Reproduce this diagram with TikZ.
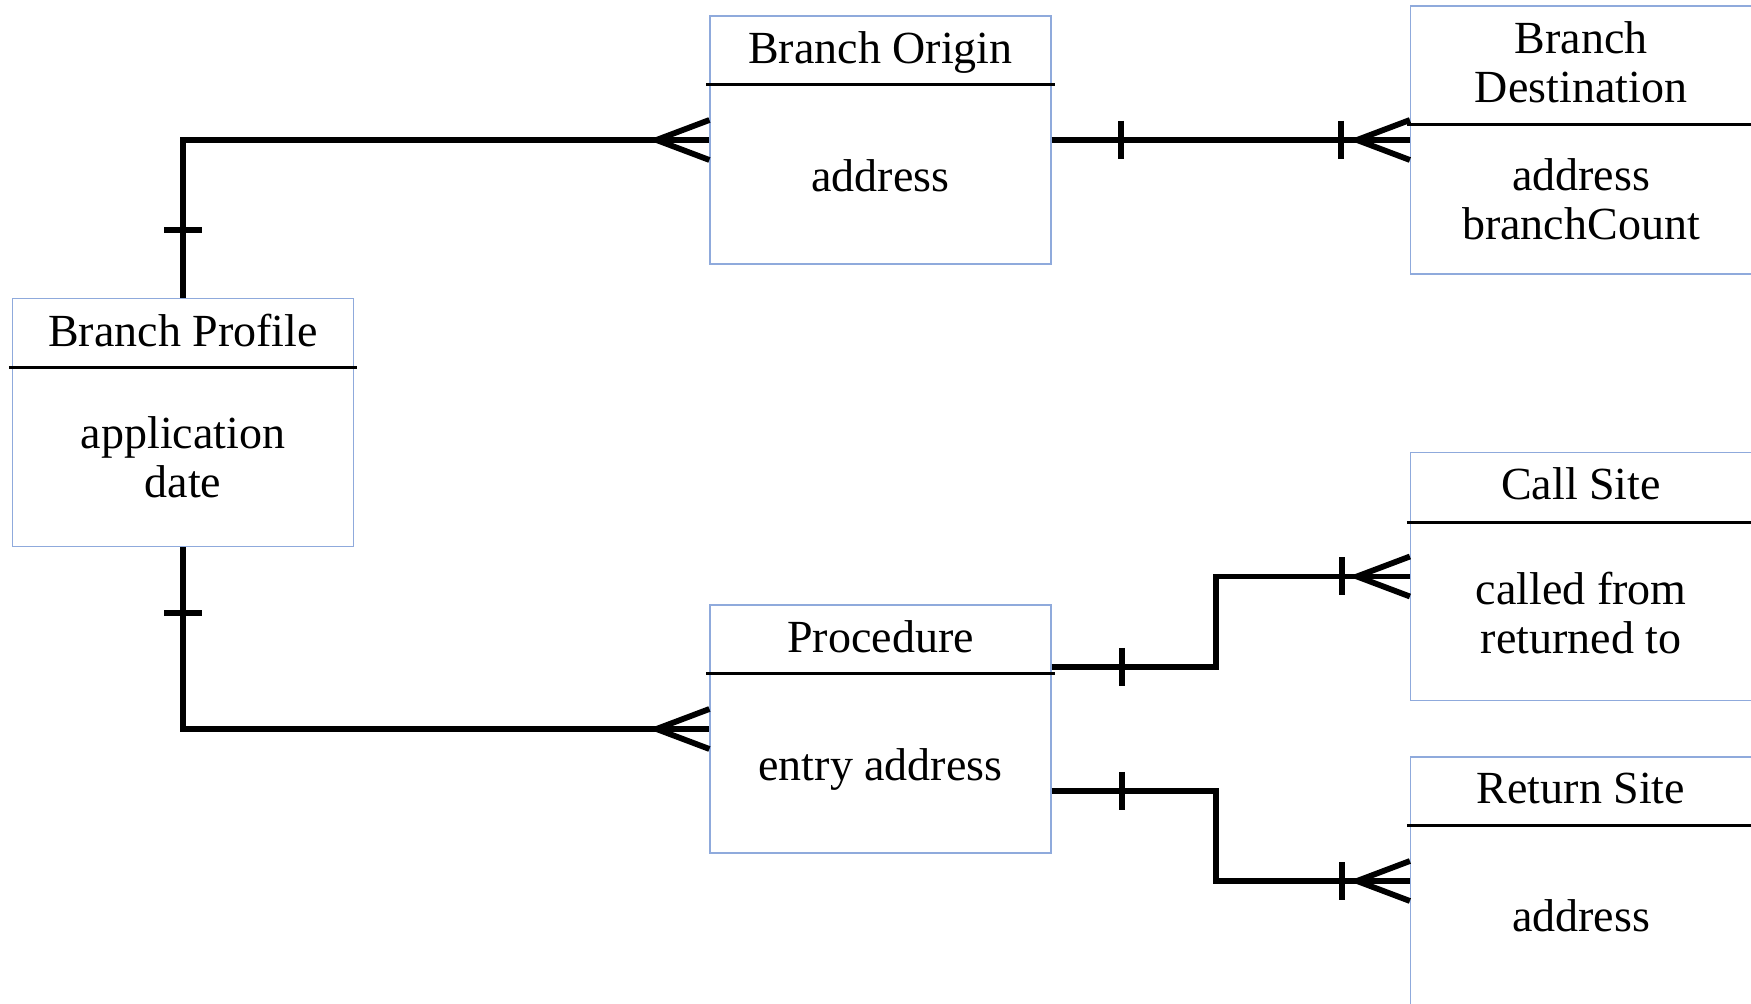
\documentclass[tikz,border=0pt]{standalone}
\usepackage{fontspec}
\setmainfont{Liberation Serif}
\usetikzlibrary{calc}
\definecolor{boxblue}{RGB}{143,170,220}
\tikzset{
  ent/.style={draw=boxblue, line width=0.6pt, minimum width=170.5pt, minimum height=124pt, inner sep=0pt},
  txt/.style={font=\fontsize{23pt}{24.5pt}\selectfont, align=center, inner sep=0pt},
  divline/.style={draw=black, line width=1.4pt},
  conn/.style={draw=black, line width=2.9pt},
  crowfoot/.pic={\draw[black, line width=2.9pt] (0,-20) -- (-53,0) -- (0,20);},
  onebar/.pic={\draw[black, line width=2.9pt] (0,-19) -- (0,19);}
}
\begin{document}
\begin{tikzpicture}[x=0.5pt, y=-0.5pt]
\useasboundingbox (0,0) rectangle (1751,1004);
\clip (0,0) rectangle (1751,1004);
\fill[white] (0,0) rectangle (1751,1004);
% entities
\node[ent] (bp) at (183,422.5) {};
\node[ent] (bo) at (880.5,140) {};
\node[ent] (pr) at (880.5,729) {};
\node[ent, minimum height=134pt] (bd) at (1581,140) {};
\node[ent] (cs) at (1581,576.5) {};
\node[ent] (rs) at (1581,881) {};
% dividers
\draw[divline] ($(bp.north west)+(-3,70)$) -- ($(bp.north east)+(3,70)$);
\draw[divline] ($(bo.north west)+(-3,69)$) -- ($(bo.north east)+(3,69)$);
\draw[divline] ($(pr.north west)+(-3,69)$) -- ($(pr.north east)+(3,69)$);
\draw[divline] ($(bd.north west)+(-3,119)$) -- ($(bd.north east)+(3,119)$);
\draw[divline] ($(cs.north west)+(-3,71)$) -- ($(cs.north east)+(3,71)$);
\draw[divline] ($(rs.north west)+(-3,69)$) -- ($(rs.north east)+(3,69)$);
% texts
\node[txt] (bpT) at (183,331) {Branch Profile};
\node[txt] (bpA) at (183,457) {application\\date};
\node[txt] (boT) at (880.5,53) {Branch Origin};
\node[txt] (boA) at (880.5,176) {address};
\node[txt] (bdT) at (1581,62) {Branch\\Destination};
\node[txt] (bdA) at (1581,199.5) {address\\branchCount};
\node[txt] (csT) at (1581,484) {Call Site};
\node[txt] (csA) at (1581,613) {called from\\returned to};
\node[txt] (rsT) at (1581,788) {Return Site};
\node[txt] (rsA) at (1581,916) {address};
\node[txt] (prT) at (880.5,637) {Procedure};
\node[txt] (prA) at (880.5,770) {entry address};
% connectors
\draw[conn] (bp.north) |- (bo.west);
\draw[conn] (bp.south) |- (pr.west);
\draw[conn] (bo.east) -- (bd.west);
\coordinate (p1) at ($(pr.east)+(0,-62)$);
\coordinate (p2) at ($(pr.east)+(0,62)$);
\coordinate (j1) at (1216,620);
\coordinate (j2) at (1216,840);
\draw[conn] (p1) -| (j1) |- (cs.west);
\draw[conn] (p2) -| (j2) |- (rs.west);
% crow's feet
\pic at (bo.west) {crowfoot};
\pic at (pr.west) {crowfoot};
\pic at (bd.west) {crowfoot};
\pic at (cs.west) {crowfoot};
\pic at (rs.west) {crowfoot};
% bars
\pic[rotate=90] at (183,230) {onebar};
\pic[rotate=90] at (183,613) {onebar};
\pic at ($(bo.east)+(69,0)$) {onebar};
\pic at ($(bd.west)+(-69,0)$) {onebar};
\pic at ($(p1)+(70,0)$) {onebar};
\pic at ($(p2)+(70,0)$) {onebar};
\pic at ($(cs.west)+(-68,0)$) {onebar};
\pic at ($(rs.west)+(-68,0)$) {onebar};
\end{tikzpicture}
\end{document}
